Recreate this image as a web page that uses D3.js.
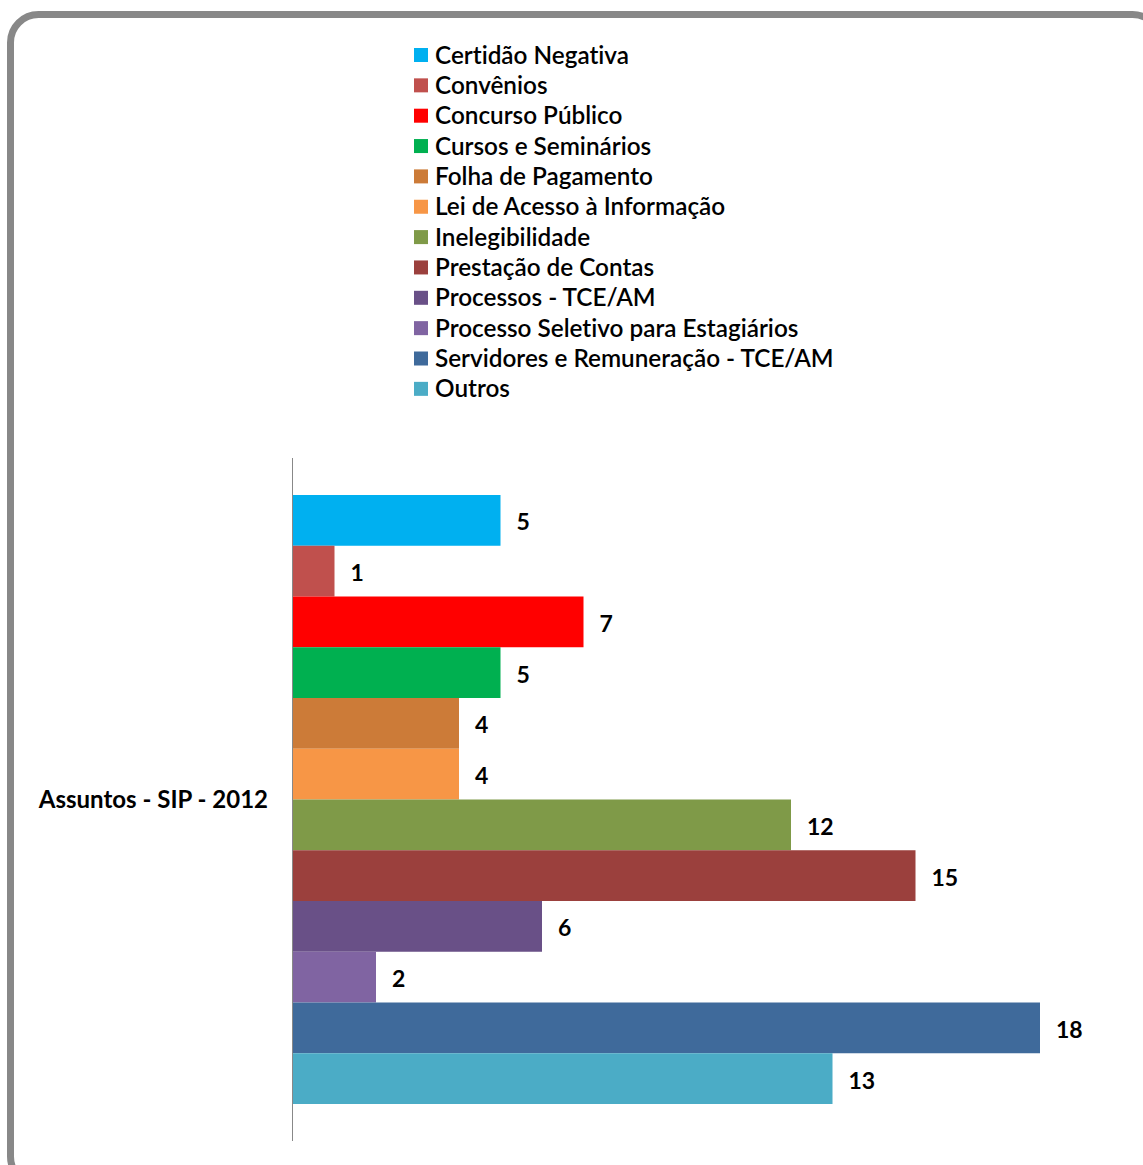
<!DOCTYPE html>
<html lang="pt">
<head>
<meta charset="utf-8">
<title>Assuntos - SIP - 2012</title>
<script src="https://d3js.org/d3.v7.min.js"></script>
<style>
  body { margin: 0; background: #fff; }
  text { font-family: Lato, "Open Sans", sans-serif; fill: #000; font-variant-ligatures: none; }
  .legend text { font-size: 24.3px; font-weight: 600; }
  .val { font-size: 23px; font-weight: bold; }
  .cat { font-size: 24px; font-weight: bold; }
</style>
</head>
<body>
<script>
var categories = ['Certidão Negativa', 'Convênios', 'Concurso Público', 'Cursos e Seminários',
  'Folha de Pagamento', 'Lei de Acesso à Informação', 'Inelegibilidade', 'Prestação de Contas',
  'Processos - TCE/AM', 'Processo Seletivo para Estagiários', 'Servidores e Remuneração - TCE/AM', 'Outros'];
var values = [5, 1, 7, 5, 4, 4, 12, 15, 6, 2, 18, 13];
var colors = ['#00B0F0', '#C0504D', '#FF0000', '#00B050', '#CC7B38', '#F79646',
  '#7F9A48', '#9B403D', '#695087', '#8064A2', '#3F6A9B', '#4BACC6'];
var groupLabel = 'Assuntos - SIP - 2012';

var W = 1143, H = 1165;
var svg = d3.select('body').append('svg').attr('width', W).attr('height', H);

// rounded frame, partly cut by the picture edge
svg.append('rect')
  .attr('x', 10.5).attr('y', 14.5)
  .attr('width', 1150).attr('height', 1170)
  .attr('rx', 28).attr('ry', 28)
  .attr('fill', '#fff').attr('stroke', '#888').attr('stroke-width', 7);

// legend
var legend = svg.append('g').attr('class', 'legend')
  .attr('transform', 'translate(414,55)');
var item = legend.selectAll('g').data(categories).enter().append('g')
  .attr('transform', function(d, i) { return 'translate(0,' + (i * 30.35) + ')'; });
item.append('rect').attr('x', 0).attr('y', -7).attr('width', 14).attr('height', 14)
  .attr('fill', function(d, i) { return colors[i]; });
item.append('text').attr('x', 21).attr('dy', '0.35em').text(function(d) { return d; });

// plot
var x0 = 293, yTop = 458, yBot = 1141;
var x = d3.scaleLinear().domain([0, 18]).range([x0, x0 + 747]);
var y = d3.scaleBand().domain(categories).range([495, 1104]);

svg.selectAll('.bar').data(values).enter().append('rect')
  .attr('class', 'bar')
  .attr('x', x(0))
  .attr('y', function(d, i) { return y(categories[i]); })
  .attr('width', function(d) { return x(d) - x(0); })
  .attr('height', y.bandwidth())
  .attr('fill', function(d, i) { return colors[i]; });

svg.selectAll('.val').data(values).enter().append('text')
  .attr('class', 'val')
  .attr('x', function(d) { return x(d) + 16; })
  .attr('y', function(d, i) { return y(categories[i]) + y.bandwidth() / 2 + 2; })
  .attr('dy', '0.35em')
  .text(function(d) { return d; });

svg.append('line')
  .attr('x1', x0 - 0.5).attr('x2', x0 - 0.5)
  .attr('y1', yTop).attr('y2', yBot)
  .attr('stroke', '#888').attr('stroke-width', 1);

svg.append('text').attr('class', 'cat')
  .attr('x', 268).attr('y', (yTop + yBot) / 2)
  .attr('text-anchor', 'end').attr('dy', '0.35em')
  .text(groupLabel);
</script>
</body>
</html>
